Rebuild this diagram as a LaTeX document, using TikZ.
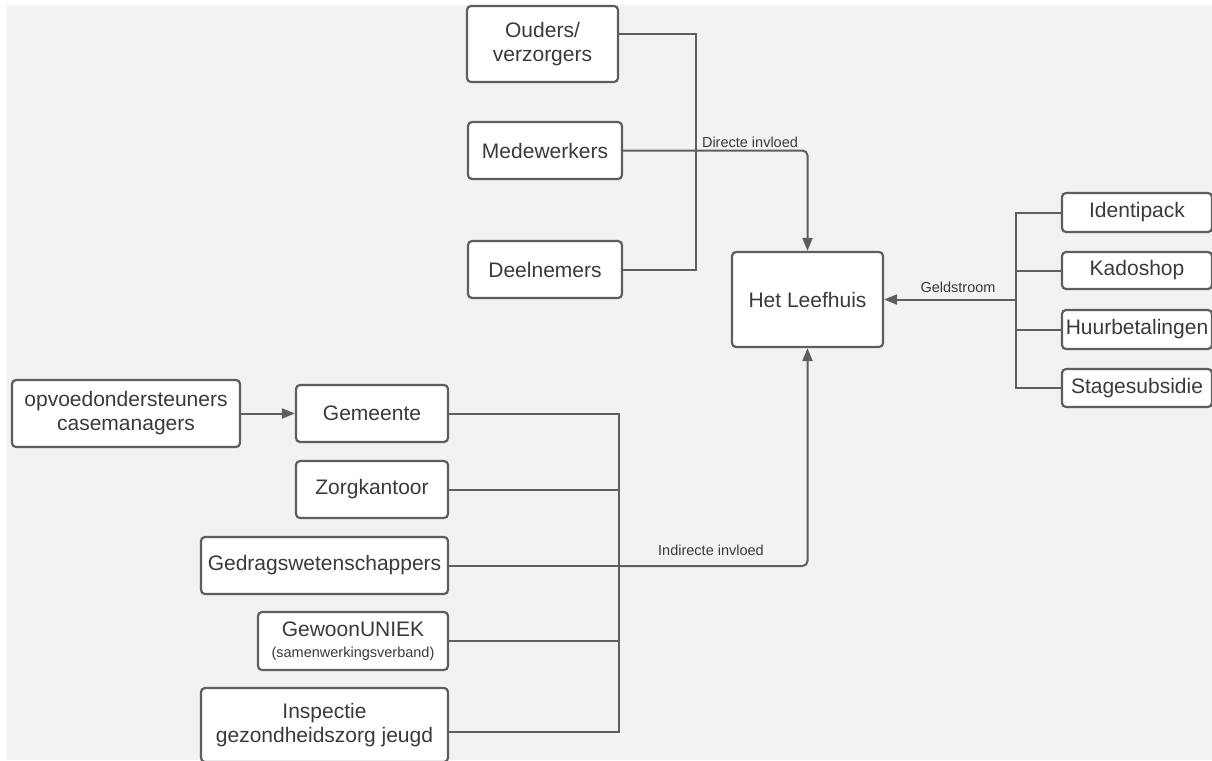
\documentclass[tikz,border=0pt]{standalone}
\usepackage{fontspec}
\setmainfont{Liberation Sans}
\usetikzlibrary{arrows.meta}
\definecolor{bg}{HTML}{F1F2F4}
\definecolor{ln}{HTML}{5E5E5E}
\definecolor{tx}{HTML}{3A3A3A}
\begin{document}
\begin{tikzpicture}[x=1pt,y=-1pt,
 box/.style={draw=ln, line width=2.2pt, rounded corners=4pt, fill=white, text=tx, inner sep=0pt, align=center, font=\fontsize{21}{24}\selectfont},
 conn/.style={draw=ln, line width=2pt},
 arr/.style={conn, -{Triangle[length=13pt,width=10pt]}},
 lbl/.style={text=tx, font=\fontsize{14.5}{17}\selectfont, inner sep=0pt}]
\useasboundingbox (0,0) rectangle (1212,760);
\fill[white] (0,0) rectangle (1212,760);
\fill[bg] (7,5) rectangle (1212,760);
\clip (0,0) rectangle (1212,760);

% top group
\node[box, minimum width=151pt, minimum height=76pt] (ouders) at (542.5,44) {Ouders/\\verzorgers};
\node[box, minimum width=154pt, minimum height=57pt] (medew) at (545,150.5) {Medewerkers};
\node[box, minimum width=154pt, minimum height=57pt] (deel) at (545,269.5) {Deelnemers};

% centre
\node[box, minimum width=151pt, minimum height=95pt] (leef) at (807.5,299.5) {Het Leefhuis};

% right group
\node[box, minimum width=150pt, minimum height=39pt] (ident) at (1137,212.5) {Identipack};
\node[box, minimum width=150pt, minimum height=37pt] (kado) at (1137,270.5) {Kadoshop};
\node[box, minimum width=150pt, minimum height=39pt] (huur) at (1137,329.5) {Huurbetalingen};
\node[box, minimum width=150pt, minimum height=38pt] (stage) at (1137,388) {Stagesubsidie};

% bottom group
\node[box, minimum width=228pt, minimum height=67pt] (opvoed) at (126,413.5) {opvoedondersteuners\\casemanagers};
\node[box, minimum width=152pt, minimum height=57pt] (gem) at (372,413.5) {Gemeente};
\node[box, minimum width=152pt, minimum height=57pt] (zorg) at (372,489.5) {Zorgkantoor};
\node[box, minimum width=247pt, minimum height=57pt] (gedrag) at (324.5,565.5) {Gedragswetenschappers};
\node[box, minimum width=190pt, minimum height=58pt] (gewoon) at (353,641) {GewoonUNIEK\\[-3pt]{\fontsize{14.5}{17}\selectfont(samenwerkingsverband)}};
\node[box, minimum width=247pt, minimum height=74pt] (insp) at (324.5,725) {Inspectie\\gezondheidszorg jeugd};

% top connectors
\coordinate (jo) at (696,34);
\coordinate (jd) at (696,269.5);
\draw[conn] (jo -| ouders.east) -- (jo) -- (jd) -- (deel.east);
\draw[arr, rounded corners=5pt] (medew.east) -| (leef.north);
\node[lbl] (dlab) at (750,142) {Directe invloed};

% right connectors
\coordinate (jr) at (1016,299.5);
\draw[conn] (ident.west) -- (ident.west -| jr) -- (stage.west -| jr) -- (stage.west);
\draw[conn] (kado.west) -- (kado.west -| jr);
\draw[conn] (huur.west) -- (huur.west -| jr);
\draw[arr] (jr) -- (leef.east);
\node[lbl] (glab) at (958,287) {Geldstroom};

% bottom connectors
\draw[arr] (opvoed) -- (gem);
\coordinate (jb) at (619,566);
\coordinate (jbi) at (619,732);
\draw[conn] (gem.east) -- (gem.east -| jb) -- (jbi) -- (jbi -| insp.east);
\draw[conn] (zorg.east) -- (zorg.east -| jb);
\draw[conn] (gedrag.east) -- (gedrag.east -| jb);
\draw[conn] (gewoon.east) -- (gewoon.east -| jb);
\draw[arr, rounded corners=5pt] (jb) -| (leef.south);
\node[lbl] (ilab) at (711,550) {Indirecte invloed};
\end{tikzpicture}
\end{document}
